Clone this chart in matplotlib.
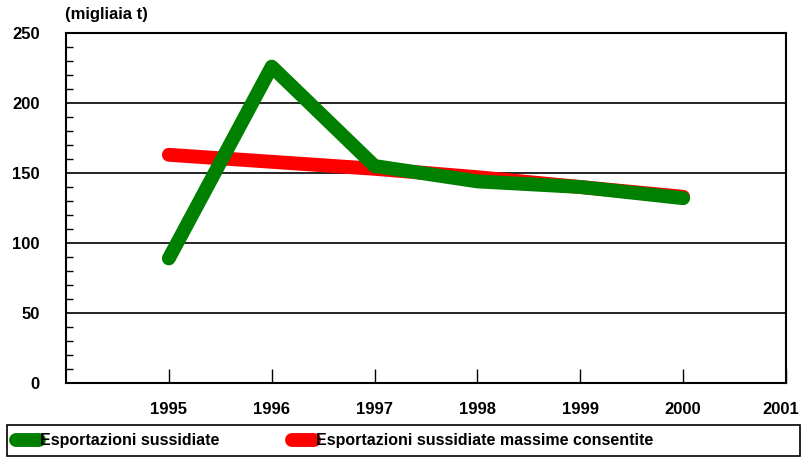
import matplotlib.pyplot as plt
import matplotlib.transforms as mtransforms
from matplotlib.lines import Line2D
from matplotlib.patches import Rectangle
from matplotlib.ticker import MultipleLocator

plt.rcParams['font.family'] = ['Liberation Sans', 'DejaVu Sans']

years = [1995, 1996, 1997, 1998, 1999, 2000]
tick_years = [1995, 1996, 1997, 1998, 1999, 2000, 2001]
sussidiate = [89, 226, 155, 144, 140, 132]
massime = [163, 158, 153, 147, 140, 133]
label_green = 'Esportazioni sussidiate'
label_red = 'Esportazioni sussidiate massime consentite'

fig = plt.figure(figsize=(8.02, 4.59), dpi=100)
ax = fig.add_axes([66 / 802, 76 / 459, 720 / 802, 350 / 459])

ax.plot(years, massime, color='#ff0000', lw=10, solid_capstyle='round', solid_joinstyle='round', zorder=3)
ax.plot(years, sussidiate, color='#008000', lw=10, solid_capstyle='round', solid_joinstyle='round', zorder=4)

ax.set_xlim(1994, 2001)
ax.set_ylim(0, 250)
ax.set_xticks(tick_years)
ax.set_xticklabels([str(y) for y in tick_years], fontsize=12, fontweight='bold')
ax.yaxis.set_major_locator(MultipleLocator(50))
ax.yaxis.set_minor_locator(MultipleLocator(10))
for t in ax.get_yticklabels():
    t.set_fontsize(12)
    t.set_fontweight('bold')

ax.tick_params(axis='x', direction='in', length=10, width=1, pad=14)
ax.tick_params(axis='y', which='major', direction='in', length=0, pad=19)
ax.tick_params(axis='y', which='minor', direction='in', length=5, width=1)
ax.grid(axis='y', which='major', color='black', lw=1.2)
for s in ax.spines.values():
    s.set_linewidth(1.5)

# keep the last year label inside the picture
last = ax.get_xticklabels()[-1]
last.set_transform(last.get_transform() + mtransforms.ScaledTranslation(-5 / 100, 0, fig.dpi_scale_trans))

fig.text(65 / 802, 1 - 15 / 459, '(migliaia t)', fontsize=12, fontweight='bold', va='center', ha='left')

# legend box
fig.patches.append(Rectangle((7 / 802, 3 / 459), 793 / 802, 31 / 459, transform=fig.transFigure,
                             fill=False, edgecolor='black', lw=1.2))
handles = [Line2D([], [], color='#008000', lw=10, solid_capstyle='round'),
           Line2D([], [], color='#ff0000', lw=10, solid_capstyle='round')]
fig.legend(handles, [label_green, label_red], loc='center left', bbox_to_anchor=(2 / 802, 18 / 459),
           ncol=2, frameon=False, handlelength=1.4, handletextpad=0.1, columnspacing=4.5,
           prop={'size': 11.5, 'weight': 'bold'})

fig.savefig('out.png', dpi=100)
